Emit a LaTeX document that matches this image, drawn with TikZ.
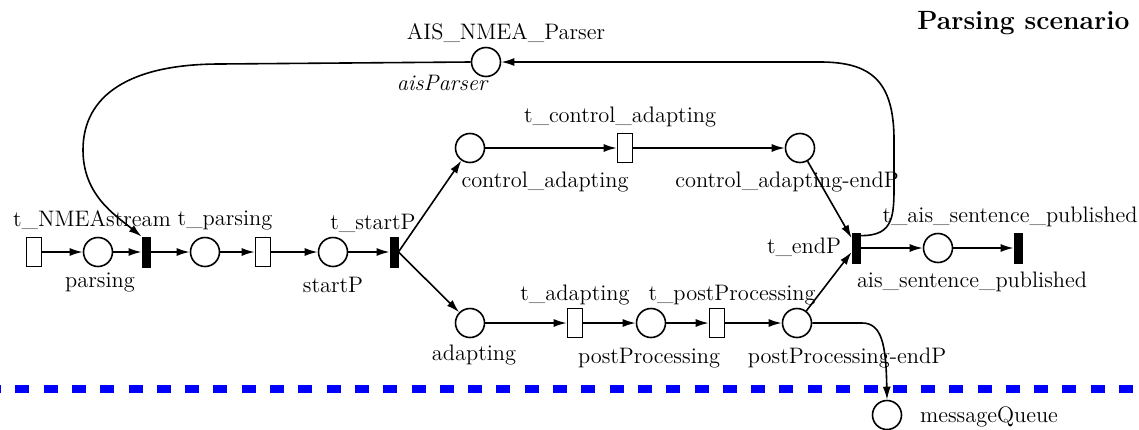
\documentclass[tikz,border=0pt]{standalone}
\usepackage{tikz}
\usetikzlibrary{shapes,arrows.meta,positioning,calc}

\tikzset{
  place/.style={circle,draw,line width=0.8pt,minimum size=14.5pt,inner sep=0pt},
  trans/.style={rectangle,draw,line width=0.8pt,minimum width=7.5pt,minimum height=14.5pt,inner sep=0pt},
  itrans/.style={rectangle,draw,fill=black,line width=0.4pt,minimum width=4pt,minimum height=15pt,inner sep=0pt},
  arc/.style={-{Latex[length=6.5pt,width=4pt]},line width=0.8pt},
  lbl/.style={inner sep=0pt,font=\fontsize{11.2}{13}\selectfont},
  sepline/.style={blue,line width=3.6pt,dash pattern=on 7pt off 7.15pt},
}

\begin{document}
\begin{tikzpicture}[x=0.5pt,y=-0.5pt]
  \useasboundingbox (0,0) rectangle (1139,429);
  %main row
  \node[trans]  (tnmea)    at (34,252)  {};
  \node[place]  (parsing)  at (98,252)  {};
  \node[itrans] (tb1)      at (146,252) {};
  \node[place]  (pparsed)  at (205,252) {};
  \node[trans]  (tparsing) at (263,252) {};
  \node[place]  (startP)   at (333,252) {};
  \node[itrans] (tstartP)  at (394,252) {};
  %upper branch
  \node[place]  (ca)  at (470,148) {};
  \node[trans]  (tca) at (625,148) {};
  \node[place]  (cae) at (800,148) {};
  %lower branch
  \node[place]  (ad)  at (470,323) {};
  \node[trans]  (tad) at (575,323) {};
  \node[place]  (pp)  at (651,323) {};
  \node[trans]  (tpp) at (717,323) {};
  \node[place]  (ppe) at (797,323) {};
  %end
  \node[itrans] (tendP) at (856,248)  {};
  \node[place]  (asp)   at (938,248)  {};
  \node[itrans] (tasp)  at (1018,248) {};
  \node[place]  (aisp)  at (486,62)   {};
  \node[place]  (mq)    at (887,415)  {};

  \draw[arc] (tnmea) -- (parsing);
  \draw[arc] (parsing) -- (tb1);
  \draw[arc] (tb1) -- (pparsed);
  \draw[arc] (pparsed) -- (tparsing);
  \draw[arc] (tparsing) -- (startP);
  \draw[arc] (startP) -- (tstartP);
  \draw[arc] (tstartP.east) -- (ca);
  \draw[arc] (tstartP.east) -- (ad);
  \draw[arc] (ca) -- (tca);
  \draw[arc] (tca) -- (cae);
  \draw[arc] (ad) -- (tad);
  \draw[arc] (tad) -- (pp);
  \draw[arc] (pp) -- (tpp);
  \draw[arc] (tpp) -- (ppe);
  \draw[arc] (cae) -- ([yshift=5pt]tendP.west);
  \draw[arc] (ppe) -- ([yshift=-2pt]tendP.west);
  \draw[arc] (tendP) -- (asp);
  \draw[arc] (asp) -- (tasp);
  % loop through the parser
  \draw[arc] ([yshift=-1.5pt]tendP.north east) .. controls (895,236) and (894,215) .. (894,180)
    -- (894,140) .. controls (894,80) and (870,62) .. (820,62) -- (aisp);
  \draw[arc] (aisp.west) -- (220,64) .. controls (130,64) and (83,95) .. (83,150)
    .. controls (83,195) and (115,215) .. (tb1.north west);
  \draw[arc] (ppe.east) -- (862,323) .. controls (882,323) and (886,345) .. (mq.north);

  %separator
  \coordinate (dl) at (-13,389);
  \coordinate (dr) at (1160,389);
  \draw[sepline] (dl) -- (dr);

  %labels
  \node[lbl] (l-tnmea)    at (92,220)   {t\_NMEAstream};
  \node[lbl] (l-parsing)  at (100,282)  {parsing};
  \node[lbl] (l-tparsing) at (225,220)  {t\_parsing};
  \node[lbl] (l-startP)   at (333,285)  {startP};
  \node[lbl] (l-tstartP)  at (373,223)  {t\_startP};
  \node[lbl] (l-tca)      at (620,117)  {t\_control\_adapting};
  \node[lbl] (l-ca)       at (545,182)  {control\_adapting};
  \node[lbl] (l-cae)      at (787,182)  {control\_adapting-endP};
  \node[lbl] (l-tendP)    at (804,247)  {t\_endP};
  \node[lbl] (l-tasp)     at (1010,217) {t\_ais\_sentence\_published};
  \node[lbl] (l-asp)      at (972,282)  {ais\_sentence\_published};
  \node[lbl] (l-tad)      at (575,295)  {t\_adapting};
  \node[lbl] (l-tpp)      at (732,295)  {t\_postProcessing};
  \node[lbl] (l-ad)       at (474,355)  {adapting};
  \node[lbl] (l-pp)       at (649,358)  {postProcessing};
  \node[lbl] (l-ppe)      at (847,358)  {postProcessing-endP};
  \node[lbl] (l-mq)       at (989,417)  {messageQueue};
  \node[lbl] (l-aisp)     at (506,33)   {AIS\_NMEA\_Parser};
  \node[lbl] (l-aispv)    at (442,83)   {\itshape aisParser};
  \node[inner sep=0pt,anchor=west,font=\bfseries\fontsize{13.2}{16}\selectfont] (title) at (917,23) {Parsing scenario};
\end{tikzpicture}
\end{document}
